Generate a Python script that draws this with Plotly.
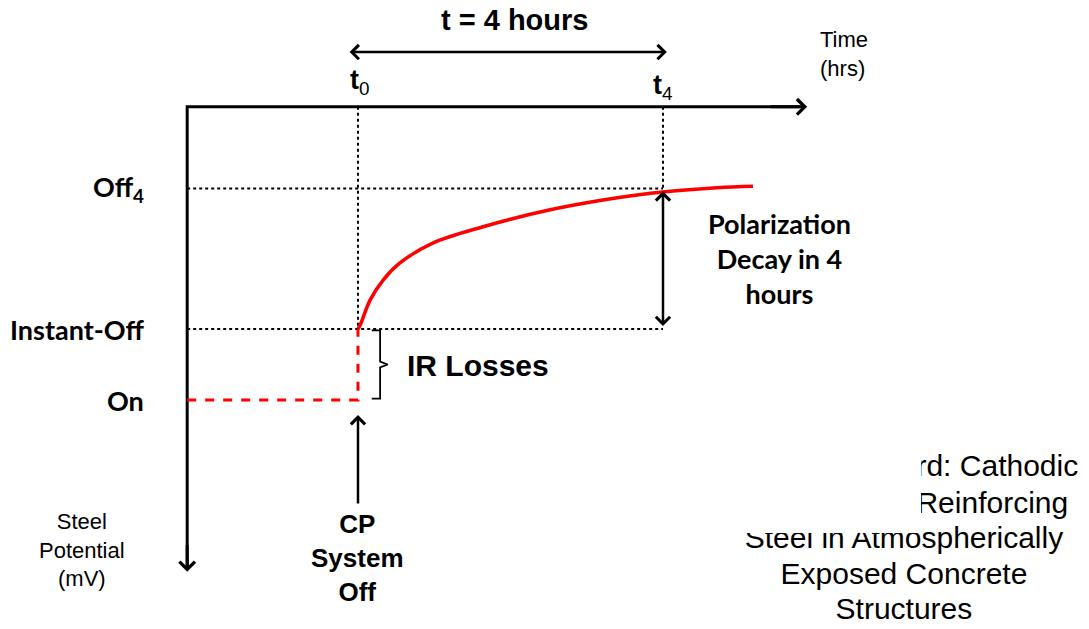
import plotly.graph_objects as go

# time in hours, t0 = moment the CP system is switched off
t_on = [-2.24, 0.0]
t_decay = [0.0, 0.03, 0.16, 0.33, 0.55, 0.98, 1.64, 2.52, 3.40, 4.0, 4.71, 5.18]
# potential shift relative to the "On" level (mV, positive = less negative)
v_decay = [100, 106, 141, 169, 193, 221, 244, 268, 285, 293, 299, 301]

v_on = 0
v_instant_off = 100
v_off4 = 298
t0, t4 = 0.0, 4.0

level_names = ['Off<sub>4</sub>', 'Instant-Off', 'On']
level_values = [v_off4, v_instant_off, v_on]

standard_lines = ['NACE Standard: Cathodic', 'Protection of Reinforcing',
                  'Steel in Atmospherically', 'Exposed Concrete', 'Structures']
standard_y = [-97, -148, -198, -249, -298]

# axes of the sketch
t_origin = -2.24
v_time_axis = 413
t_axis_end = 5.89
v_axis_end = -242

red = '#FF0000'
calibri = 'Lato'
arial = 'Liberation Sans, Arial'

fig = go.Figure()

# axes (L shape)
fig.add_trace(go.Scatter(x=[t_axis_end - 0.1, t_origin, t_origin],
                         y=[v_time_axis, v_time_axis, v_axis_end + 8],
                         mode='lines', line={'color': 'black', 'width': 3},
                         hoverinfo='skip', showlegend=False))

# dotted guide lines
dot = {'color': 'black', 'width': 2, 'dash': 'dot'}
for xs, ys in [([t_origin, t4], [v_off4, v_off4]),
               ([t_origin, t4], [v_instant_off, v_instant_off]),
               ([t0, t0], [v_time_axis, v_instant_off]),
               ([t4, t4], [v_time_axis, v_off4])]:
    fig.add_trace(go.Scatter(x=xs, y=ys, mode='lines', line=dot,
                             hoverinfo='skip', showlegend=False))

# "On" potential + instant drop (dashed red)
fig.add_trace(go.Scatter(x=t_on + [t0], y=[v_on, v_on, v_instant_off],
                         mode='lines', line={'color': red, 'width': 3, 'dash': 'dash'},
                         hoverinfo='skip', showlegend=False))

# depolarization curve
fig.add_trace(go.Scatter(x=t_decay, y=v_decay, mode='lines',
                         line={'color': red, 'width': 3.5, 'shape': 'spline'},
                         hoverinfo='skip', showlegend=False))

# IR losses brace
b0, b1, b2 = 0.18, 0.29, 0.39
v_mid = (v_on + v_instant_off) / 2
fig.add_trace(go.Scatter(x=[b0, b1, b1, b2, b1, b1, b0],
                         y=[v_instant_off - 2, v_instant_off - 2, v_mid + 4, v_mid, v_mid - 4, v_on + 2, v_on + 2],
                         mode='lines', line={'color': 'black', 'width': 1.8},
                         hoverinfo='skip', showlegend=False))

# standard title, partly hidden behind a white box
fig.add_trace(go.Scatter(x=[7.16] * len(standard_lines), y=standard_y, mode='text',
                         text=standard_lines, textposition='middle center',
                         textfont={'family': arial, 'size': 30, 'color': 'black'},
                         hoverinfo='skip', showlegend=False))
fig.add_shape(type='rect', xref='paper', yref='paper',
              x0=690 / 1089, x1=921 / 1089, y0=1 - 533 / 629, y1=1 - 440 / 629,
              fillcolor='white', line={'width': 0}, layer='above')


def arrow(x0, y0, x1, y1, width=3, both=False, size=1.0):
    fig.add_annotation(x=x1, y=y1, ax=x0, ay=y0, xref='x', yref='y', axref='x', ayref='y',
                       text='', showarrow=True, arrowhead=4, startarrowhead=4,
                       arrowsize=size, startarrowsize=size, arrowwidth=width,
                       arrowcolor='black', arrowside='end+start' if both else 'end')


arrow(t_axis_end - 0.5, v_time_axis, t_axis_end, v_time_axis)
arrow(t_origin, v_axis_end + 40, t_origin, v_axis_end)
arrow(t0 - 0.13, 490, t4 + 0.05, 490, width=2.5, both=True, size=1.1)
arrow(t4, v_instant_off + 2, t4, v_off4 - 4, width=2.5, both=True, size=1.1)
arrow(t0, -148, t0, -21, width=2.5, size=1.1)

# level labels
for name, val in zip(level_names, level_values):
    fig.add_annotation(x=-2.78, y=val, xref='x', yref='y', text='<b>%s</b>' % name,
                       showarrow=False, xanchor='right', yanchor='middle',
                       font={'family': calibri, 'size': 27, 'color': 'black'})

texts = [
    (2.05, 535, '<b>t = 4 hours</b>', arial, 29, 'center', 'middle'),
    (t0 + 0.02, 448, '<b>t</b><sub>0</sub>', arial, 27, 'center', 'middle'),
    (t4, 441, '<b>t</b><sub>4</sub>', arial, 27, 'center', 'middle'),
    (6.03, 487, 'Time<br>(hrs)', arial, 22, 'left', 'middle'),
    (5.53, 200, '<b>Polarization<br>Decay in 4<br>hours</b>', calibri, 27, 'center', 'middle'),
    (0.62, 48, '<b>IR Losses</b>', arial, 30, 'left', 'middle'),
    (t0, -151, '<b>CP<br>System<br>Off</b>', arial, 26, 'center', 'top'),
    (-3.62, -211, 'Steel<br>Potential<br>(mV)', arial, 22, 'center', 'middle'),
]
for x, y, txt, fam, size, xa, ya in texts:
    fig.add_annotation(x=x, y=y, xref='x', yref='y', text=txt, showarrow=False,
                       xanchor=xa, yanchor=ya, align=xa,
                       font={'family': fam, 'size': size, 'color': 'black'})

fig.update_xaxes(range=[-4.695, 9.587], visible=False)
fig.update_yaxes(range=[-322.5, 563.4], visible=False)
fig.update_layout(width=1089, height=629, margin={'l': 0, 'r': 0, 't': 0, 'b': 0},
                  plot_bgcolor='white', paper_bgcolor='white', showlegend=False)

fig.write_html("out.html", config={'displayModeBar': False},
               post_script="document.body.style.margin='0px';")
